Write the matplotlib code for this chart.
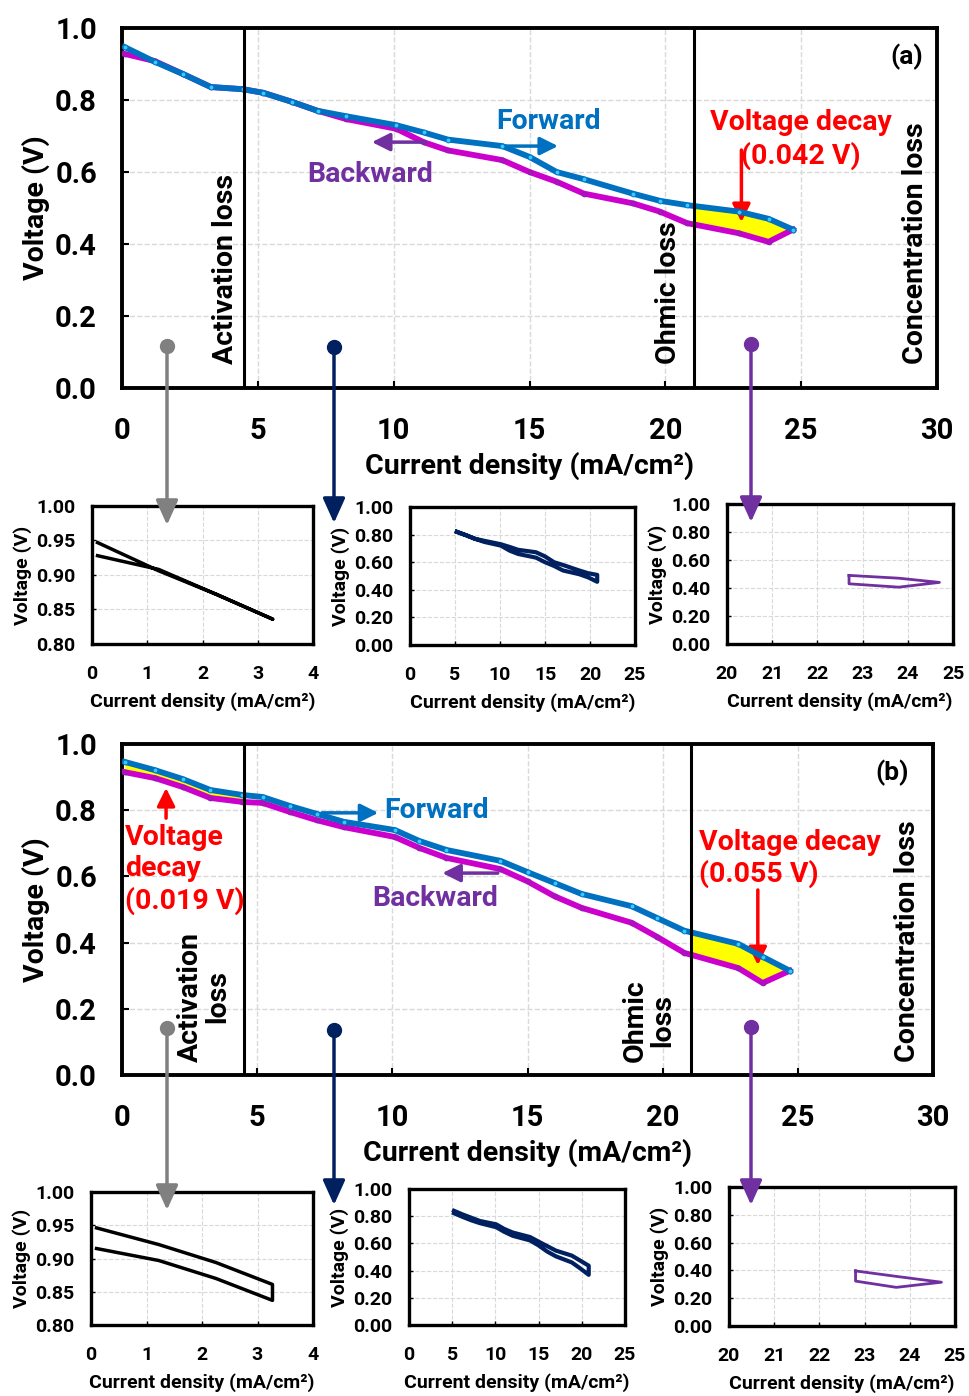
import numpy as np
import matplotlib
matplotlib.use('Agg')
import matplotlib.pyplot as plt
from matplotlib.patches import FancyArrowPatch, Rectangle
from matplotlib.lines import Line2D

plt.rcParams['font.family'] = ['Roboto', 'DejaVu Sans']
plt.rcParams['font.weight'] = 'bold'
plt.rcParams['axes.labelweight'] = 'bold'

# (a) polarization, forward / backward sweep
j_a = np.array([0.1, 1.21, 2.25, 3.27, 4.45, 5.2, 6.25, 7.2, 8.25, 10.1, 11.1,
                12.0, 14.0, 15.0, 16.0, 17.0, 18.8, 19.8, 20.8, 22.7, 23.8, 24.7])
v_fwd_a = np.array([0.947, 0.906, 0.872, 0.836, 0.83, 0.82, 0.795, 0.77, 0.755, 0.73, 0.71,
                    0.69, 0.672, 0.642, 0.60, 0.58, 0.54, 0.52, 0.508, 0.49, 0.47, 0.44])
v_bwd_a = np.array([0.928, 0.908, 0.872, 0.836, 0.83, 0.82, 0.795, 0.77, 0.747, 0.72, 0.683,
                    0.66, 0.633, 0.60, 0.573, 0.54, 0.513, 0.49, 0.458, 0.43, 0.406, 0.44])

# (b)
j_b = np.array([0.1, 1.22, 2.25, 3.27, 4.45, 5.2, 6.2, 7.2, 8.2, 10.1, 11.0,
                12.0, 14.0, 15.0, 16.0, 17.0, 18.85, 19.8, 20.8, 22.8, 23.7, 24.7])
v_fwd_b = np.array([0.946, 0.921, 0.894, 0.861, 0.846, 0.84, 0.813, 0.789, 0.765, 0.740, 0.707,
                    0.68, 0.647, 0.613, 0.58, 0.547, 0.51, 0.474, 0.436, 0.396, 0.357, 0.315])
v_bwd_b = np.array([0.915, 0.897, 0.870, 0.837, 0.825, 0.822, 0.795, 0.770, 0.749, 0.719, 0.686,
                    0.656, 0.622, 0.585, 0.54, 0.505, 0.46, 0.417, 0.369, 0.323, 0.278, 0.315])

xlab = 'Current density (mA/cm²)'
ylab = 'Voltage (V)'

W, H = 969, 1396
fig = plt.figure(figsize=(W / 100, H / 100), dpi=100)

FS = 20.5    # main text size
FST = 21     # main tick labels
FSI = 14     # inset text size
HEAD = '-|>,head_length=0.9,head_width=0.45'


def box(l, t, r, b):
    return [l / W, 1 - b / H, (r - l) / W, (b - t) / H]


def fxy(x, y):
    return (x / W, 1 - y / H)


def main_panel(rect, j, vf, vb, fills):
    ax = fig.add_axes(rect)
    for lo, hi in fills:
        p = ax.fill_between(j, vf, vb, where=(j >= lo - 0.3) & (j <= hi + 0.4),
                            color='#FFFF00', lw=0, zorder=2)
        p.set_clip_path(Rectangle((lo, 0), hi - lo, 1, transform=ax.transData))
    ax.plot(j, vf, color='#0070C0', lw=4.2, marker='o', ms=3.5, mfc='#33CCFF',
            mec='#0070C0', mew=0.6, zorder=4)
    ax.plot(j, vb, color='#CC00CC', lw=4.2, marker='o', ms=3.5, mfc='#CC00CC',
            mec='#7030A0', mew=0.6, zorder=3)
    ax.axvline(4.5, color='k', lw=2.2, zorder=5)
    ax.axvline(21.05, color='k', lw=2.2, zorder=5)
    ax.set_xlim(0, 30)
    ax.set_ylim(0, 1)
    ax.set_xticks(np.arange(0, 31, 5))
    ax.set_yticks(np.arange(0, 1.01, 0.2))
    ax.set_yticklabels(['%.1f' % v for v in np.arange(0, 1.01, 0.2)])
    ax.tick_params(direction='in', length=5, width=1.5, labelsize=FST)
    ax.tick_params(axis='x', pad=21)
    ax.tick_params(axis='y', pad=18)
    ax.grid(True, ls='--', color='#D9D9D9', lw=1)
    ax.set_axisbelow(True)
    for s in ax.spines.values():
        s.set_linewidth(2.8)
    ax.set_xlabel(xlab, fontsize=FS, labelpad=5)
    ax.set_ylabel(ylab, fontsize=FS, labelpad=4)
    return ax


def inset(rect, j, vf, vb, lo, hi, color, lw, xlim, xt, ylim, yt, closed=False):
    ax = fig.add_axes(rect)
    m = (j >= lo) & (j <= hi)
    xx = np.concatenate([j[m], j[m][::-1]])
    yy = np.concatenate([vf[m], vb[m][::-1]])
    if closed:
        xx = np.append(xx, xx[0])
        yy = np.append(yy, yy[0])
    ax.plot(xx, yy, color=color, lw=lw, solid_joinstyle='round')
    ax.set_xlim(*xlim)
    ax.set_ylim(*ylim)
    ax.set_xticks(xt)
    ax.set_yticks(yt)
    ax.set_yticklabels(['%.2f' % v for v in yt])
    ax.tick_params(direction='in', length=3, width=1, labelsize=FSI)
    ax.tick_params(axis='x', pad=15)
    ax.tick_params(axis='y', pad=12)
    ax.grid(True, ls='--', color='#D9D9D9', lw=0.8)
    ax.set_axisbelow(True)
    for s in ax.spines.values():
        s.set_linewidth(2.4)
    ax.set_xlabel(xlab, fontsize=FSI, labelpad=7)
    ax.set_ylabel(ylab, fontsize=FSI, labelpad=3)
    return ax


def connector(x, y0, y1, color):
    fig.add_artist(FancyArrowPatch(fxy(x, y0), fxy(x, y1), transform=fig.transFigure,
                                   arrowstyle='-|>,head_length=1.0,head_width=0.45',
                                   mutation_scale=15, color=color, lw=2.5,
                                   shrinkA=0, shrinkB=0, zorder=10))
    fig.add_artist(Line2D([x / W], [1 - y0 / H], transform=fig.transFigure, marker='o',
                          ms=10, color=color, zorder=11))


def arrow(ax, x0, y0, x1, y1, color):
    ax.annotate('', xy=(x1, y1), xytext=(x0, y0),
                arrowprops=dict(arrowstyle=HEAD, mutation_scale=12, color=color, lw=2.5,
                                shrinkA=0, shrinkB=0))


red = '#FF0000'
blue = '#0070C0'
purple = '#7030A0'

# ---------------- (a)
ax = main_panel(box(122, 28, 937, 388), j_a, v_fwd_a, v_bwd_a, [(21.05, 30)])
ax.text(28.9, 0.919, '(a)', fontsize=19, ha='center', va='center')
ax.text(3.8, 0.067, 'Activation loss', rotation=90, ha='center', va='bottom', fontsize=FS)
ax.text(20.1, 0.067, 'Ohmic loss', rotation=90, ha='center', va='bottom', fontsize=FS)
ax.text(29.2, 0.067, 'Concentration loss', rotation=90, ha='center', va='bottom', fontsize=FS)
ax.text(15.7, 0.739, 'Forward', color=blue, ha='center', va='center', fontsize=FS)
arrow(ax, 14.0, 0.672, 16.05, 0.672, blue)
ax.text(9.13, 0.594, 'Backward', color=purple, ha='center', va='center', fontsize=FS)
arrow(ax, 11.15, 0.683, 9.2, 0.683, purple)
ax.text(25.0, 0.69, 'Voltage decay\n(0.042 V)', color=red, ha='center', va='center',
        fontsize=FS, linespacing=1.25, zorder=6)
arrow(ax, 22.8, 0.661, 22.8, 0.461, red)

inset(box(92, 506, 313, 644), j_a, v_fwd_a, v_bwd_a, 0, 3.3, 'black', 2.5,
      (0, 4), np.arange(0, 5, 1), (0.8, 1.0), np.arange(0.80, 1.001, 0.05))
inset(box(410, 507, 635, 645), j_a, v_fwd_a, v_bwd_a, 5, 21, '#002060', 3,
      (0, 25), np.arange(0, 26, 5), (0, 1), np.arange(0, 1.001, 0.2))
inset(box(727, 504, 953, 644), j_a, v_fwd_a, v_bwd_a, 22.5, 25, '#7030A0', 2,
      (20, 25), np.arange(20, 26, 1), (0, 1), np.arange(0, 1.001, 0.2), closed=True)

connector(167, 346, 525, '#808080')
connector(334, 347, 523, '#002060')
connector(751, 344, 522, '#7030A0')

# ---------------- (b)
bx = main_panel(box(122, 744, 933, 1075), j_b, v_fwd_b, v_bwd_b, [(0, 4.5), (21.05, 30)])
bx.text(28.5, 0.912, '(b)', fontsize=19, ha='center', va='center')
bx.text(3.04, 0.04, 'Activation\nloss', rotation=90, ha='center', va='bottom', fontsize=FS,
        linespacing=1.05)
bx.text(19.5, 0.04, 'Ohmic\nloss', rotation=90, ha='center', va='bottom', fontsize=FS,
        linespacing=1.05)
bx.text(29.07, 0.04, 'Concentration loss', rotation=90, ha='center', va='bottom', fontsize=FS)
bx.text(11.63, 0.798, 'Forward', color=blue, ha='center', va='center', fontsize=FS)
arrow(bx, 7.4, 0.792, 9.48, 0.792, blue)
bx.text(11.6, 0.532, 'Backward', color=purple, ha='center', va='center', fontsize=FS)
arrow(bx, 13.9, 0.61, 11.85, 0.61, purple)
bx.text(0.11, 0.622, 'Voltage\ndecay\n(0.019 V)', color=red, ha='left', va='center',
        fontsize=FS, linespacing=1.2, zorder=6)
arrow(bx, 1.63, 0.776, 1.63, 0.867, red)
bx.text(21.33, 0.654, 'Voltage decay\n(0.055 V)', color=red, ha='left', va='center',
        fontsize=FS, linespacing=1.15, zorder=6)
arrow(bx, 23.52, 0.559, 23.52, 0.332, red)

inset(box(91, 1192, 313, 1325), j_b, v_fwd_b, v_bwd_b, 0, 3.3, 'black', 2.5,
      (0, 4), np.arange(0, 5, 1), (0.8, 1.0), np.arange(0.80, 1.001, 0.05))
inset(box(409, 1189, 625, 1325), j_b, v_fwd_b, v_bwd_b, 5, 21, '#002060', 3,
      (0, 25), np.arange(0, 26, 5), (0, 1), np.arange(0, 1.001, 0.2))
inset(box(729, 1187, 955, 1326), j_b, v_fwd_b, v_bwd_b, 22.5, 25, '#7030A0', 2,
      (20, 25), np.arange(20, 26, 1), (0, 1), np.arange(0, 1.001, 0.2), closed=True)

connector(167, 1028, 1210, '#808080')
connector(334, 1030, 1205, '#002060')
connector(751, 1027, 1205, '#7030A0')

plt.savefig('out.png', dpi=100)
